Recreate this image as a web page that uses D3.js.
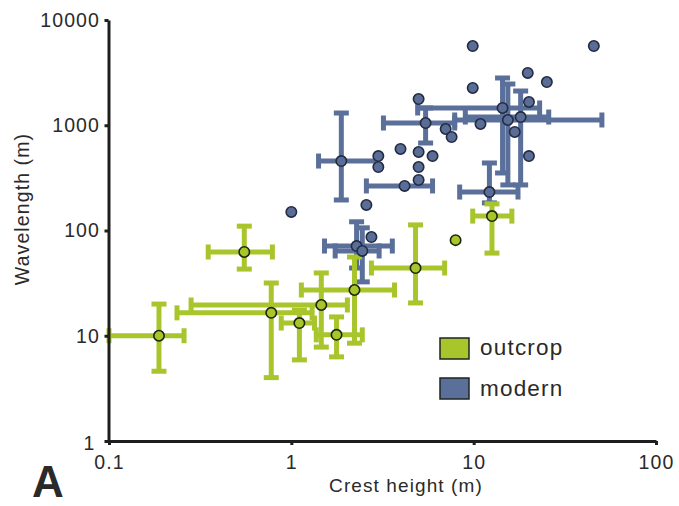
<!DOCTYPE html>
<html>
<head>
<meta charset="utf-8">
<script src="https://cdn.jsdelivr.net/npm/d3@7"></script>
<style>
  body { margin: 0; background: #fff; }
  text { font-family: "Liberation Sans", Arial, sans-serif; fill: #2a2a2a; }
</style>
</head>
<body>
<div id="chart"></div>
<script>
const width = 679;
const height = 506;

// outcrop series (crest height m, wavelength m, ranges)
const outcropCrest = [0.188, 0.552, 0.776, 1.107, 1.46, 1.77, 2.22, 4.8, 7.96, 12.6];
const outcropWave = [10, 62.5, 16.5, 13.2, 19.6, 10.2, 27.2, 44, 81, 137];
const outcropCrestRange = [[0.1, 0.258], [0.35, 0.787], [0.236, 1.3], [0.88, 1.34], [0.282, 2.03],
  [1.37, 2.45], [1.135, 3.68], [2.75, 6.93], null, [9.88, 16.2]];
const outcropWaveRange = [[4.6, 20], [43, 110], [4.0, 31.7], [5.9, 17.5], [7.8, 39.5],
  [6.3, 15.1], [8.5, 56], [20.5, 113], null, [61, 179]];

// modern series
const modernCrest = [1.0, 1.88, 3.0, 3.0, 3.97, 4.99, 5.95, 4.99, 4.99, 4.18, 2.58, 4.99, 5.45, 7.02, 7.57,
  9.88, 45.6, 19.8, 25.2, 9.88, 20.1, 14.4, 18.1, 15.4, 10.9, 16.8, 20.1, 12.2, 2.75, 2.28, 2.45];
const modernWave = [150, 457, 510, 401, 595, 557, 510, 401, 302, 265, 175, 1775, 1050, 921, 773,
  5660, 5660, 3140, 2575, 2260, 1663, 1459, 1197, 1122, 1028, 863, 510, 232, 86.7, 71.2, 63.9];
const modernCrestRange = [null, [1.41, 2.93], null, null, null, null, null, null, null, [2.58, 5.95], null, null, [3.2, 7.87], null, null,
  null, null, null, null, null, null, [4.93, 23], [9.0, 25.8], [7.87, 50.5], null, null, null, [8.38, 17.5], null, [1.52, 3.58], [1.74, 3.03]];
const modernWaveRange = [null, [195, 1307], null, null, null, null, null, null, null, null, null, null, [678, 1459], null, null,
  null, null, null, null, null, null, [352, 2812], [271, 2115], [271, 2466], null, null, null, [183, 438], null, [44, 121], [32.5, 106]];

const xTicks = [0.1, 1, 10, 100];
const yTicks = [1, 10, 100, 1000, 10000];
const legendLabels = ["outcrop", "modern"];

const green = "#a8c62c", blue = "#5a6f9a";

const x = d3.scaleLog().domain([0.1, 100]).range([109, 656]);
const y = d3.scaleLog().domain([1, 10000]).range([441, 20]);

const svg = d3.select("#chart").append("svg").attr("width", width).attr("height", height);

function rows(crest, wave, cr, wr) {
  return crest.map((c, i) => ({ c, w: wave[i], cr: cr[i], wr: wr[i] }));
}
const outcrop = rows(outcropCrest, outcropWave, outcropCrestRange, outcropWaveRange);
const modern = rows(modernCrest, modernWave, modernCrestRange, modernWaveRange);

// error bars with caps
function drawBars(data, color) {
  const g = svg.append("g").attr("stroke", color).attr("stroke-width", 5).attr("fill", "none");
  const cap = 7.5;
  data.forEach(d => {
    const px = x(d.c), py = y(d.w);
    if (d.cr) {
      const a = x(d.cr[0]), b = x(d.cr[1]);
      g.append("line").attr("x1", a).attr("x2", b).attr("y1", py).attr("y2", py);
      g.append("line").attr("x1", a).attr("x2", a).attr("y1", py - cap).attr("y2", py + cap);
      g.append("line").attr("x1", b).attr("x2", b).attr("y1", py - cap).attr("y2", py + cap);
    }
    if (d.wr) {
      const a = y(d.wr[0]), b = y(d.wr[1]);
      g.append("line").attr("x1", px).attr("x2", px).attr("y1", a).attr("y2", b);
      g.append("line").attr("x1", px - cap).attr("x2", px + cap).attr("y1", a).attr("y2", a);
      g.append("line").attr("x1", px - cap).attr("x2", px + cap).attr("y1", b).attr("y2", b);
    }
  });
}

function drawPoints(data, fill, stroke) {
  svg.append("g").selectAll("circle").data(data).join("circle")
    .attr("cx", d => x(d.c)).attr("cy", d => y(d.w)).attr("r", 5.2)
    .attr("fill", fill).attr("stroke", stroke).attr("stroke-width", 1.6);
}

drawBars(modern, blue);
drawBars(outcrop, green);
drawPoints(modern, "#5a6d96", "#222b42");
drawPoints(outcrop, green, "#1d260d");

// axes
const xAxis = svg.append("g").attr("transform", "translate(0,441)")
  .call(d3.axisBottom(x).tickValues(xTicks).tickFormat(d3.format("")).tickSize(4).tickSizeOuter(0).tickPadding(10.5));
const yAxis = svg.append("g").attr("transform", "translate(108.5,0)")
  .call(d3.axisLeft(y).tickValues(yTicks).tickFormat(d3.format("")).tickSize(4).tickSizeOuter(0).tickPadding(4.5));

[xAxis, yAxis].forEach(a => {
  a.select(".domain").attr("stroke", "#1e1e1e").attr("stroke-width", 3);
  a.selectAll(".tick line").attr("stroke", "#1e1e1e").attr("stroke-width", 3);
  a.selectAll(".tick text").attr("font-size", 19.5).attr("letter-spacing", "1.1px")
    .attr("fill", "#2a2a2a").style("font-family", "'Liberation Sans', Arial, sans-serif");
});
yAxis.selectAll(".tick text").filter(d => d === 1).attr("x", -13).attr("dy", "0.45em");

// axis titles
svg.append("text").attr("x", 406).attr("y", 492).attr("text-anchor", "middle")
  .attr("font-size", 19).attr("letter-spacing", "1.1px").text("Crest height (m)");
svg.append("text").attr("transform", "translate(29,209) rotate(-90)").attr("text-anchor", "middle")
  .attr("font-size", 19.5).attr("letter-spacing", "1.1px").text("Wavelength (m)");

// panel letter
svg.append("text").attr("x", 32).attr("y", 497).attr("font-size", 44).attr("font-weight", "bold")
  .attr("fill", "#1a1a1a").text("A");

// legend
const legend = svg.append("g");
[green, blue].forEach((c, i) => {
  legend.append("rect").attr("x", 440).attr("y", 338 + i * 40).attr("width", 29).attr("height", 21)
    .attr("fill", c).attr("stroke", "#1e2420").attr("stroke-width", 1.5);
  legend.append("text").attr("x", 480).attr("y", 355 + i * 41).attr("font-size", 22.5)
    .attr("letter-spacing", "1.2px").text(legendLabels[i]);
});
</script>
</body>
</html>
